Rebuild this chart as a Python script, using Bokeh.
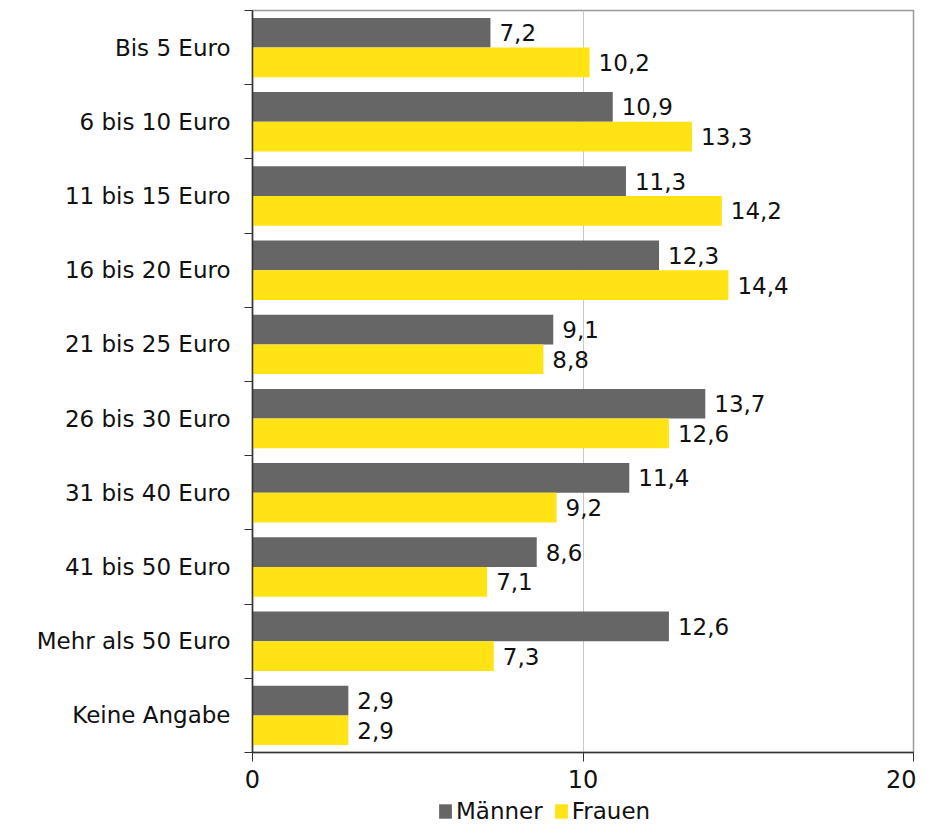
from bokeh.plotting import figure
from bokeh.layouts import column
from bokeh.models import Range1d, FixedTicker, ColumnDataSource, Legend, LegendItem, LabelSet
from bokeh.core.properties import value
from bokeh.embed import file_html
from bokeh.resources import INLINE

categories = ["Bis 5 Euro", "6 bis 10 Euro", "11 bis 15 Euro", "16 bis 20 Euro", "21 bis 25 Euro",
              "26 bis 30 Euro", "31 bis 40 Euro", "41 bis 50 Euro", "Mehr als 50 Euro", "Keine Angabe"]
maenner = [7.2, 10.9, 11.3, 12.3, 9.1, 13.7, 11.4, 8.6, 12.6, 2.9]
frauen = [10.2, 13.3, 14.2, 14.4, 8.8, 12.6, 9.2, 7.1, 7.3, 2.9]
series = ["Männer", "Frauen"]
x_ticks = [0, 10, 20]

FONT = "DejaVu Sans"
GRAY = "#666666"
YELLOW = "#FFE314"

n = len(categories)
centers = [i + 0.5 for i in range(n)]
fmt = lambda v: f"{v:.1f}".replace(".", ",")

src_m = ColumnDataSource(dict(y=[c - 0.2 for c in centers], v=maenner, t=[fmt(v) for v in maenner]))
src_f = ColumnDataSource(dict(y=[c + 0.2 for c in centers], v=frauen, t=[fmt(v) for v in frauen]))

p = figure(width=916, height=796, output_backend="svg", toolbar_location=None,
           x_range=Range1d(0, 20), y_range=Range1d(n, 0),
           min_border_left=252, min_border_right=3, min_border_top=10, min_border_bottom=44)

p.hbar(y="y", right="v", left=0, height=0.4, source=src_m, color=GRAY, line_color=None)
p.hbar(y="y", right="v", left=0, height=0.4, source=src_f, color=YELLOW, line_color=None)

for src in (src_m, src_f):
    p.add_layout(LabelSet(x="v", y="y", text="t", source=src, x_offset=9, y_offset=0,
                          text_baseline="middle", text_font=value(FONT), text_font_size="23px",
                          text_color="#111111"))

p.outline_line_color = "#999999"
p.outline_line_width = 1.5

# y axis
p.yaxis.ticker = FixedTicker(ticks=centers, minor_ticks=list(range(n + 1)))
p.yaxis.major_label_overrides = {c: cat for c, cat in zip(centers, categories)}
p.yaxis.major_tick_line_color = None
p.yaxis.minor_tick_out = 8
p.yaxis.minor_tick_in = 0
p.yaxis.minor_tick_line_color = "#333333"
p.yaxis.axis_line_color = "#333333"
p.yaxis.axis_line_width = 1.5
p.yaxis.major_label_text_font = FONT
p.yaxis.major_label_text_font_size = "23px"
p.yaxis.major_label_text_color = "#111111"
p.yaxis.major_label_standoff = 14

# x axis
p.xaxis.ticker = FixedTicker(ticks=x_ticks)
p.xaxis.major_tick_out = 9
p.xaxis.major_tick_in = 0
p.xaxis.minor_tick_line_color = None
p.xaxis.axis_line_color = "#333333"
p.xaxis.axis_line_width = 1.5
p.xaxis.major_tick_line_color = "#333333"
p.xaxis.major_label_text_font = FONT
p.xaxis.major_label_text_font_size = "24px"
p.xaxis.major_label_text_color = "#111111"
p.xaxis.major_label_standoff = 8

p.ygrid.grid_line_color = None
p.xgrid.ticker = FixedTicker(ticks=x_ticks)
p.xgrid.grid_line_color = "#c8c8c8"

# legend strip below the chart (proxy bars lie outside its visible range)
lg = figure(width=916, height=28, output_backend="svg", toolbar_location=None,
            x_range=Range1d(0, 1), y_range=Range1d(0, 1),
            min_border_left=0, min_border_right=0, min_border_top=0, min_border_bottom=0)
lg.axis.visible = False
lg.grid.visible = False
lg.outline_line_color = None
lm = lg.hbar(y=[-10], right=[0], left=0, height=0.5, color=GRAY, line_color=None)
lf = lg.hbar(y=[-10], right=[0], left=0, height=0.5, color=YELLOW, line_color=None)

legend = Legend(items=[LegendItem(label=series[0], renderers=[lm]),
                       LegendItem(label=series[1], renderers=[lf])],
                orientation="horizontal", location=(185, 0),
                label_text_font=FONT, label_text_font_size="23px", label_text_color="#111111",
                label_height=20, glyph_width=16, glyph_height=18, label_standoff=3, spacing=10,
                padding=0, margin=0, border_line_color=None, background_fill_alpha=0)
lg.add_layout(legend, "center")

layout = column(p, lg, spacing=0)
open("out.html", "w").write(file_html(layout, INLINE))
